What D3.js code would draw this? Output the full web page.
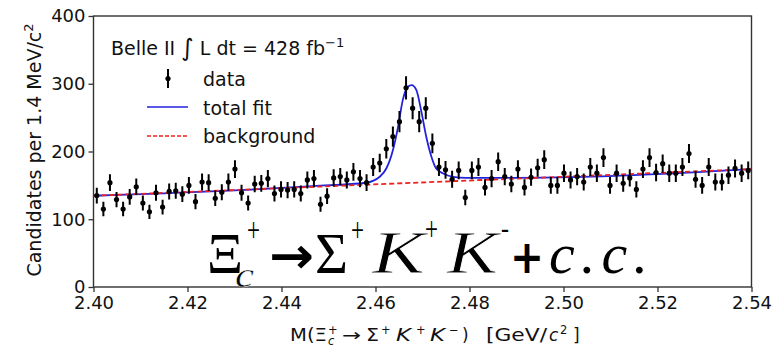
<!DOCTYPE html>
<html>
<head>
<meta charset="utf-8">
<script src="https://cdn.jsdelivr.net/npm/d3@7"></script>
<style>
  body { margin: 0; background: #fff; }
  svg { display: block; font-family: "DejaVu Sans", sans-serif; }
</style>
</head>
<body>
<svg id="chart" width="776" height="349"></svg>
<script>
var WIDTH = 776,
    HEIGHT = 349;

var margin = {top: 16, right: 24.5, bottom: 62, left: 93.5},
width = WIDTH - margin.left - margin.right,
height = HEIGHT - margin.top - margin.bottom;

// mass window and bin size (GeV)
const massRange = [2.40, 2.54];
const binSize = 0.0014;

// candidates per bin (100 bins)
const counts = [
  135, 115, 154, 129, 115, 133, 148, 124, 111, 139,
  118, 141, 142, 137, 150, 126, 155, 154, 131, 140,
  155, 174, 139, 124, 152, 153, 160, 138, 144, 143,
  144, 138, 158, 160, 122, 134, 161, 163, 158, 170,
  160, 154, 177, 183, 204, 222, 244, 294, 264, 244,
  264, 212, 177, 173, 159, 172, 132, 172, 177, 147,
  160, 185, 163, 152, 174, 147, 162, 176, 188, 150,
  150, 168, 158, 163, 155, 177, 168, 191, 150, 168,
  153, 161, 144, 174, 191, 169, 182, 168, 168, 177,
  197, 159, 150, 177, 155, 155, 165, 175, 168, 172
];

// total fit, sampled from the drawn curve
const fitMass  = [2.400, 2.440, 2.4467, 2.4580, 2.4609, 2.4623, 2.4637, 2.4648, 2.4658, 2.4669,
                  2.4677, 2.4687, 2.4697, 2.4708, 2.4719, 2.4729, 2.4744, 2.4765, 2.4793, 2.490, 2.540];
const fitValue = [134.7, 146.2, 149.0, 153.9, 162.7, 174.9, 202.0, 236.4, 275.8, 295.5,
                  297.9, 290.5, 261.0, 221.7, 192.2, 174.9, 167.6, 162.7, 161.2, 161.0, 174.0];

// background line end points
const bgMass  = [2.40, 2.54];
const bgValue = [134.7, 174.0];

const xTicks = [2.40, 2.42, 2.44, 2.46, 2.48, 2.50, 2.52, 2.54];
const yTicks = [0, 100, 200, 300, 400];
const legendLabels = ['data', 'total fit', 'background'];

const svg = d3.select('#chart');
const g = svg.append('g').attr('transform', `translate(${margin.left},${margin.top})`);

const x = d3.scaleLinear().domain(massRange).range([0, width]);
const y = d3.scaleLinear().domain([0, 400]).range([height, 0]);

svg.append('clipPath').attr('id', 'plotclip')
  .append('rect').attr('width', width).attr('height', height);

const plot = g.append('g').attr('clip-path', 'url(#plotclip)');

// fit curve
const fitLine = d3.line()
  .x(d => x(d[0])).y(d => y(d[1]))
  .curve(d3.curveMonotoneX);

plot.append('path')
  .datum(d3.zip(fitMass, fitValue))
  .attr('d', fitLine)
  .attr('fill', 'none')
  .attr('stroke', '#2222dd')
  .attr('stroke-width', 1.8);

plot.append('path')
  .datum(d3.zip(bgMass, bgValue))
  .attr('d', d3.line().x(d => x(d[0])).y(d => y(d[1])))
  .attr('fill', 'none')
  .attr('stroke', '#ee2222')
  .attr('stroke-width', 1.8)
  .attr('stroke-dasharray', '5,3');

// data points with sqrt(N) errors
const pts = counts.map((c, i) => ({m: massRange[0] + (i + 0.5) * binSize, n: c}));

const dataG = plot.append('g');
dataG.selectAll('line')
  .data(pts)
  .enter()
  .append('line')
  .attr('x1', d => x(d.m)).attr('x2', d => x(d.m))
  .attr('y1', d => y(d.n - Math.sqrt(d.n)))
  .attr('y2', d => y(d.n + Math.sqrt(d.n)))
  .attr('stroke', '#000')
  .attr('stroke-width', 2);

dataG.selectAll('circle')
  .data(pts)
  .enter()
  .append('circle')
  .attr('cx', d => x(d.m))
  .attr('cy', d => y(d.n))
  .attr('r', 2.6)
  .attr('fill', '#000');

// axes
const xAxis = d3.axisBottom(x).tickValues(xTicks).tickFormat(d3.format('.2f')).tickSizeOuter(0).tickSize(5).tickPadding(4);
const yAxis = d3.axisLeft(y).tickValues(yTicks).tickSizeOuter(0).tickSize(5).tickPadding(3);

const gx = g.append('g').attr('transform', `translate(0,${height})`).call(xAxis);
const gy = g.append('g').call(yAxis);

[gx, gy].forEach(a => {
  a.selectAll('text').attr('font-size', 18).attr('fill', '#111').attr('font-family', '"DejaVu Sans", sans-serif');
  a.selectAll('line').attr('stroke', '#333').attr('stroke-width', 1.3);
  a.select('.domain').remove();
});

g.append('rect')
  .attr('width', width).attr('height', height)
  .attr('fill', 'none')
  .attr('stroke', '#333')
  .attr('stroke-width', 1.4);

// legend
const leg = svg.append('g');
const lt = leg.append('text').attr('x', 111).attr('y', 55).attr('font-size', 19).attr('fill', '#111');
lt.append('tspan').text('Belle II ');
lt.append('tspan').text('∫').attr('font-size', 24).attr('dy', 1);
lt.append('tspan').text(' L dt = 428 fb').attr('dy', -1);
lt.append('tspan').text('−1').attr('font-size', 13).attr('dy', -8);

leg.append('line').attr('x1', 168).attr('x2', 168).attr('y1', 69).attr('y2', 88).attr('stroke', '#000').attr('stroke-width', 2);
leg.append('circle').attr('cx', 168).attr('cy', 78.5).attr('r', 2.6).attr('fill', '#000');
leg.append('line').attr('x1', 147).attr('x2', 188).attr('y1', 107).attr('y2', 107).attr('stroke', '#2222dd').attr('stroke-width', 1.6);
leg.append('line').attr('x1', 147).attr('x2', 188).attr('y1', 136).attr('y2', 136).attr('stroke', '#ee2222').attr('stroke-width', 1.6).attr('stroke-dasharray', '4,2');

legendLabels.forEach((s, i) => {
  leg.append('text').attr('x', 203).attr('y', 86 + i * 28.5).attr('font-size', 19).attr('fill', '#111').text(s);
});

// big decay label, each glyph placed as in the picture
const big = svg.append('g').attr('fill', '#000').attr('font-family', '"Liberation Serif", serif');
function piece(parent, t, px, py, size, opts) {
  opts = opts || {};
  const el = parent.append('text').attr('x', px).attr('y', py).attr('font-size', size).text(t);
  if (opts.italic) el.attr('font-style', 'italic');
  if (opts.bold) el.attr('font-weight', 'bold');
  if (opts.sans) el.attr('font-family', '"DejaVu Sans", sans-serif');
  if (opts.len) el.attr('textLength', opts.len).attr('lengthAdjust', opts.adj || 'spacingAndGlyphs');
  if (opts.thin) el.attr('stroke', '#fff').attr('stroke-width', opts.thin);
  return el;
}
piece(big, 'Ξ', 207, 273, 57, {len: 36});
piece(big, 'c', 235, 287, 36, {italic: true, len: 19, thin: 0.5});
piece(big, '+', 247, 241, 34, {len: 13});
piece(big, '→', 269, 273, 50, {bold: true, sans: true, len: 45});
piece(big, 'Σ', 315, 273, 57, {len: 33});
piece(big, '+', 351, 241, 34, {len: 13});
piece(big, 'K', 372, 273, 62, {italic: true, len: 53, thin: 0.8});
piece(big, '+', 425, 240, 34, {len: 13});
piece(big, 'K', 447, 273, 62, {italic: true, len: 51, thin: 0.8});
piece(big, '-', 501, 238, 30, {len: 8});
piece(big, '+', 510, 273, 46, {bold: true, sans: true, len: 34});
piece(big, 'c.c.', 549, 273, 58, {italic: true, len: 99, adj: 'spacing'});

// x axis title
const xt = svg.append('g').attr('fill', '#111');
const xs = 17, xsub = 11.5, xb = 341;
piece(xt, 'M(Ξ', 290, xb, xs, {sans: true, len: 37});
piece(xt, 'c', 328, xb + 4, xsub, {sans: true, italic: true});
piece(xt, '+', 328, xb - 7, xsub, {sans: true});
piece(xt, '→', 342, xb, xs, {sans: true, len: 19});
piece(xt, 'Σ', 366, xb, xs, {sans: true, len: 13});
piece(xt, '+', 381, xb - 7, xsub, {sans: true});
piece(xt, 'K', 396, xb, xs, {sans: true, italic: true, len: 15});
piece(xt, '+', 416, xb - 7, xsub, {sans: true});
piece(xt, 'K', 430, xb, xs, {sans: true, italic: true, len: 15});
piece(xt, '−', 449, xb - 7, xsub, {sans: true});
piece(xt, ')', 462, xb, xs, {sans: true});
piece(xt, '[GeV/', 486, xb, xs, {sans: true, len: 61});
piece(xt, 'c', 549, xb, xs, {sans: true, italic: true});
piece(xt, '2', 560, xb - 7, xsub, {sans: true});
piece(xt, ']', 573, xb, xs, {sans: true});

const yl = svg.append('text')
  .attr('transform', 'translate(41,150) rotate(-90)')
  .attr('text-anchor', 'middle')
  .attr('font-size', 19)
  .attr('fill', '#111');
yl.append('tspan').text('Candidates per 1.4 MeV/c');
yl.append('tspan').text('2').attr('font-size', 13).attr('dy', -8);
</script>
</body>
</html>
